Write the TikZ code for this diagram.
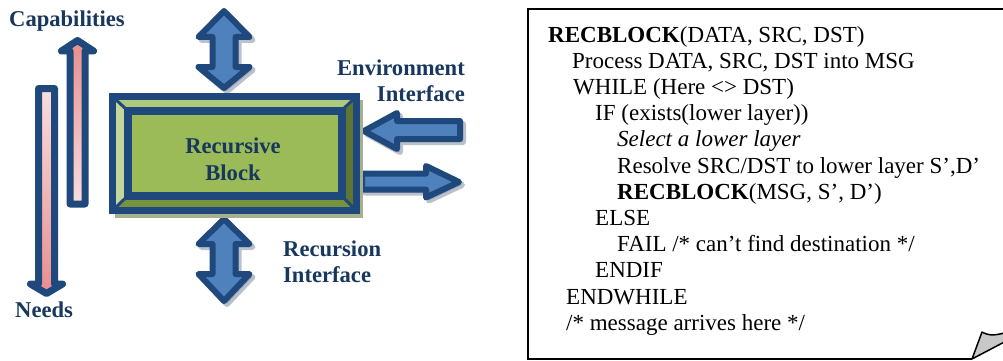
\documentclass[tikz,border=0pt]{standalone}
\usepackage{fontspec}
\setmainfont{Liberation Serif}
\definecolor{navy}{RGB}{23,55,94}
\definecolor{arrline}{RGB}{31,73,125}
\definecolor{arrfill}{RGB}{79,129,189}
\definecolor{shadowc}{RGB}{140,152,170}
\definecolor{pinkdark}{RGB}{232,142,142}
\definecolor{pinklight}{RGB}{248,222,222}
\definecolor{gcenter}{RGB}{155,187,89}
\definecolor{gtop}{RGB}{175,202,124}
\definecolor{gleft}{RGB}{196,215,155}
\definecolor{gright}{RGB}{95,117,48}
\definecolor{gbottom}{RGB}{119,147,60}
\definecolor{bshadow}{RGB}{166,176,140}
\definecolor{curlgray}{RGB}{200,200,200}
\begin{document}
\begin{tikzpicture}[x=1pt,y=-1pt,
  lbl/.style={font=\fontsize{22.6}{26}\selectfont\bfseries, text=navy, inner sep=0pt},
  codeline/.style={font=\fontsize{23}{26}\selectfont, anchor=base west, inner sep=0pt},
  barrow/.style={fill=arrfill, draw=arrline, line width=6pt, line join=round},
  bshade/.style={fill=shadowc, draw=shadowc, line width=6pt, line join=round, opacity=0.6},
  parrow/.style={draw=arrline, line width=7pt, line join=round}]
\useasboundingbox (0,0) rectangle (1003,361);

% ---- pink arrows ----
\path[parrow, top color=pinkdark, bottom color=pinklight]
  (70,204) -- (70,51) -- (61.5,51) -- (77.5,40.5) -- (93.5,51) -- (85,51) -- (85,204) -- cycle;
\path[parrow, top color=pinklight, bottom color=pinkdark]
  (38.5,88.5) -- (54.5,88.5) -- (54.5,284) -- (62.5,284) -- (46.5,293.5) -- (30.5,284) -- (38.5,284) -- cycle;
\node[lbl, anchor=base west] (cap) at (9,26.5) {Capabilities};
\node[lbl, anchor=base west] (needs) at (15,317) {Needs};

% ---- blue arrow shadows ----
\begin{scope}[shift={(3,3)}]
\path[bshade] (224,11) -- (249.5,37) -- (235.5,37) -- (235.5,67) -- (249.5,67) -- (224,88) -- (198.5,67) -- (212.5,67) -- (212.5,37) -- (198.5,37) -- cycle;
\path[bshade] (224,219) -- (249.5,244) -- (235.5,244) -- (235.5,274) -- (249.5,274) -- (224,301) -- (198.5,274) -- (212.5,274) -- (212.5,244) -- (198.5,244) -- cycle;
\path[bshade] (364,131) -- (397,113) -- (397,121) -- (460,121) -- (460,139) -- (397,139) -- (397,149) -- cycle;
\path[bshade] (362,173.5) -- (426,173.5) -- (426,166) -- (459,182) -- (426,197.5) -- (426,189.5) -- (362,189.5) -- cycle;
\end{scope}

% ---- blue arrows ----
\path[barrow] (224,11) -- (249.5,37) -- (235.5,37) -- (235.5,67) -- (249.5,67) -- (224,88) -- (198.5,67) -- (212.5,67) -- (212.5,37) -- (198.5,37) -- cycle;
\path[barrow] (224,219) -- (249.5,244) -- (235.5,244) -- (235.5,274) -- (249.5,274) -- (224,301) -- (198.5,274) -- (212.5,274) -- (212.5,244) -- (198.5,244) -- cycle;
\path[barrow] (364,131) -- (397,113) -- (397,121) -- (460,121) -- (460,139) -- (397,139) -- (397,149) -- cycle;
\path[barrow] (362,173.5) -- (426,173.5) -- (426,166) -- (459,182) -- (426,197.5) -- (426,189.5) -- (362,189.5) -- cycle;

% ---- recursive block ----
\fill[bshadow] (115,100) rectangle (363,218);
\fill[gtop] (112.5,96.5) -- (356.5,96.5) -- (341.5,110.5) -- (127.5,110.5) -- cycle;
\fill[gleft] (112.5,96.5) -- (127.5,110.5) -- (127.5,196) -- (112.5,210.5) -- cycle;
\fill[gright] (356.5,96.5) -- (356.5,210.5) -- (341.5,196) -- (341.5,110.5) -- cycle;
\fill[gbottom] (112.5,210.5) -- (127.5,196) -- (341.5,196) -- (356.5,210.5) -- cycle;
\draw[arrline, line width=3pt] (112.5,96.5) -- (127.5,110.5) (356.5,96.5) -- (341.5,110.5)
  (112.5,210.5) -- (127.5,196) (356.5,210.5) -- (341.5,196);
\draw[arrline, fill=gcenter, line width=8pt] (127.5,110.5) rectangle (341.5,196);
\draw[arrline, line width=7pt] (112.5,96.5) rectangle (356.5,210.5);
\node[lbl, anchor=base] (rb1) at (233,153) {Recursive};
\node[lbl, anchor=base] (rb2) at (233,180) {Block};

\node[lbl, anchor=base east] (env1) at (465,75) {Environment};
\node[lbl, anchor=base east] (env2) at (465,101.5) {Interface};
\node[lbl, anchor=base west] (rec1) at (283,256.5) {Recursion};
\node[lbl, anchor=base west] (rec2) at (283,282.5) {Interface};

% ---- code box ----
\draw[black, line width=2pt, line join=miter] (972,359) -- (528,359) -- (528,9.5) -- (1010,9.5);
\draw[black, line width=1.5pt, fill=curlgray, line join=round]
  (972,359) -- (982,332) .. controls (989,336) and (996,336) .. (1010,331) -- (1010,339) -- cycle;

\node[codeline] (c1) at (548,42) {\textbf{RECBLOCK}(DATA, SRC, DST)};
\node[codeline] (c2) at (572,68.2) {Process DATA, SRC, DST into MSG};
\node[codeline] (c3) at (573,94.4) {WHILE (Here <> DST)};
\node[codeline] (c4) at (595,120.6) {IF (exists(lower layer))};
\node[codeline] (c5) at (617,146.8) {\textit{Select a lower layer}};
\node[codeline] (c6) at (617,173) {Resolve SRC/DST to lower layer S’,D’};
\node[codeline] (c7) at (617,199.2) {\textbf{RECBLOCK}(MSG, S’, D’)};
\node[codeline] (c8) at (595,225.4) {ELSE};
\node[codeline] (c9) at (617,251.6) {FAIL /* can’t find destination */};
\node[codeline] (c10) at (595,277.8) {ENDIF};
\node[codeline] (c11) at (566,304) {ENDWHILE};
\node[codeline] (c12) at (566,330.2) {/* message arrives here */};
\end{tikzpicture}
\end{document}
